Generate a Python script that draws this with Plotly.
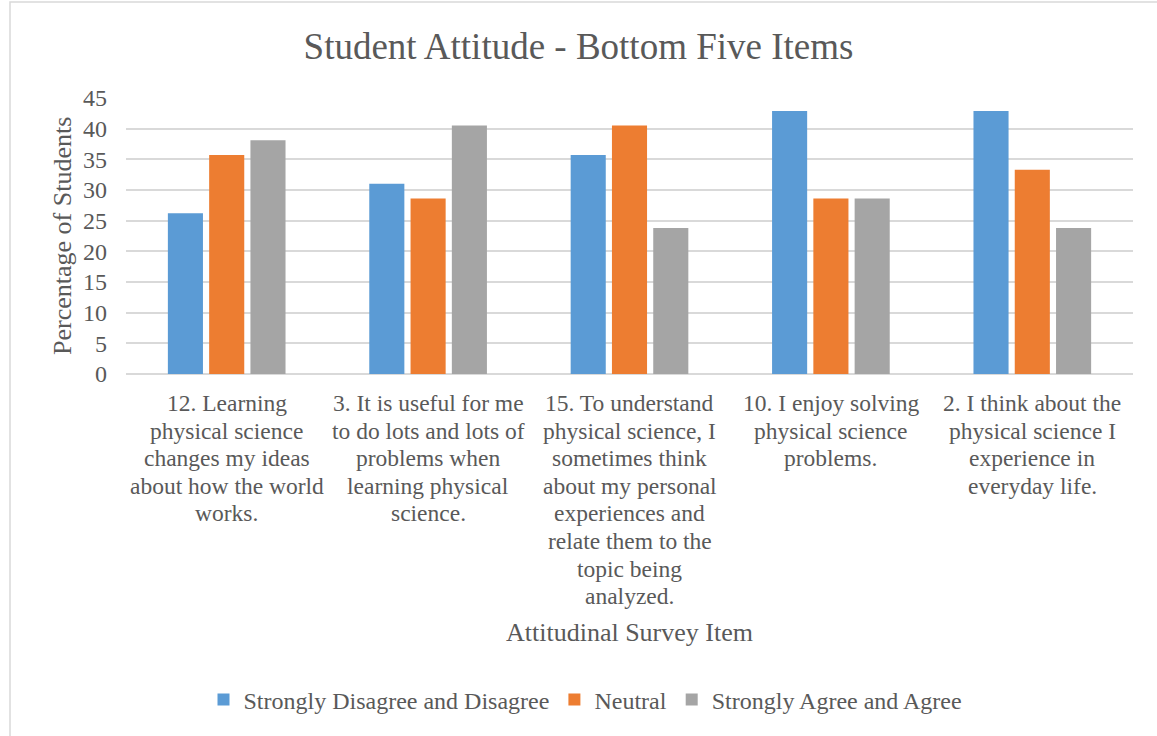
import plotly.graph_objects as go

category_lines = [
    ["12. Learning", "physical science", "changes my ideas", "about how the world", "works."],
    ["3. It is useful for me", "to do lots and lots of", "problems when", "learning physical", "science."],
    ["15. To understand", "physical science, I", "sometimes think", "about my personal",
     "experiences and", "relate them to the", "topic being", "analyzed."],
    ["10. I enjoy solving", "physical science", "problems."],
    ["2. I think about the", "physical science I", "experience in", "everyday life."],
]
categories = [" ".join(lines) for lines in category_lines]
disagree = [26.2, 31.0, 35.7, 42.9, 42.9]
neutral = [35.7, 28.6, 40.5, 28.6, 33.3]
agree = [38.1, 40.5, 23.8, 28.6, 23.8]

series_names = ["Strongly Disagree and Disagree", "Neutral", "Strongly Agree and Agree"]
colors = ["#5B9BD5", "#ED7D31", "#A5A5A5"]
y_ticks = [0, 5, 10, 15, 20, 25, 30, 35, 40, 45]

FONT = "Liberation Serif"
GREY = "#595959"

fig = go.Figure()
for name, vals, col in zip(series_names, [disagree, neutral, agree], colors):
    fig.add_trace(go.Bar(x=categories, y=vals, name=name, marker=dict(color=col, line=dict(width=0))))

L, R, T, B = 126, 24, 98, 362
W, H = 1157, 736
pw, ph = W - L - R, H - T - B

fig.update_layout(
    width=W, height=H,
    margin=dict(l=L, r=R, t=T, b=B),
    paper_bgcolor="white", plot_bgcolor="white",
    barmode="group", bargap=0.385, bargroupgap=0.15,
    font=dict(family=FONT, color=GREY, size=22),
    title=dict(text="Student Attitude - Bottom Five Items", x=0.5, xanchor="center",
               y=1 - 46 / H, yanchor="middle", font=dict(size=37, color=GREY, family=FONT)),
    xaxis=dict(showticklabels=False, showgrid=False, ticks="", showline=False, automargin=False),
    yaxis=dict(range=[0, 45], tickvals=y_ticks, showgrid=True, gridcolor="#D9D9D9", gridwidth=1.5,
               zeroline=True, zerolinecolor="#D9D9D9", zerolinewidth=1.5,
               tickfont=dict(size=24, color=GREY, family=FONT), ticks="", automargin=False,
               ticklabelstandoff=18),
    legend=dict(orientation="h", x=0.5 - 44 / pw, xanchor="center", y=(H - 700 - B) / ph, yanchor="middle",
                font=dict(size=24, color=GREY, family=FONT), itemwidth=30, tracegroupgap=0),
)

# wrapped category labels (Excel-like tight line spacing)
for cat, lines in zip(categories, category_lines):
    for j, line in enumerate(lines):
        fig.add_annotation(x=cat, y=0, xref="x", yref="y", text=line, showarrow=False,
                           xanchor="center", yanchor="middle", yshift=-(29 + j * 27.6),
                           font=dict(size=23.5, color=GREY, family=FONT))

# axis titles
fig.add_annotation(x=0.5, y=(H - B - 632) / ph, xref="paper", yref="paper", text="Attitudinal Survey Item",
                   showarrow=False, xanchor="center", yanchor="middle",
                   font=dict(size=26, color=GREY, family=FONT))
fig.add_annotation(x=(62 - L) / pw, y=(H - B - 236) / ph, xref="paper", yref="paper",
                   text="Percentage of Students", textangle=-90, showarrow=False,
                   xanchor="center", yanchor="middle", font=dict(size=26, color=GREY, family=FONT))

# outer chart border
fig.add_shape(type="rect", xref="paper", yref="paper",
              x0=(10 - L) / pw, x1=(W + 20 - L) / pw,
              y0=(H - B - (H + 20)) / ph, y1=(H - B - 2) / ph,
              line=dict(color="#D9D9D9", width=1.5), fillcolor="rgba(0,0,0,0)", layer="below")

fig.write_html("out.html")
